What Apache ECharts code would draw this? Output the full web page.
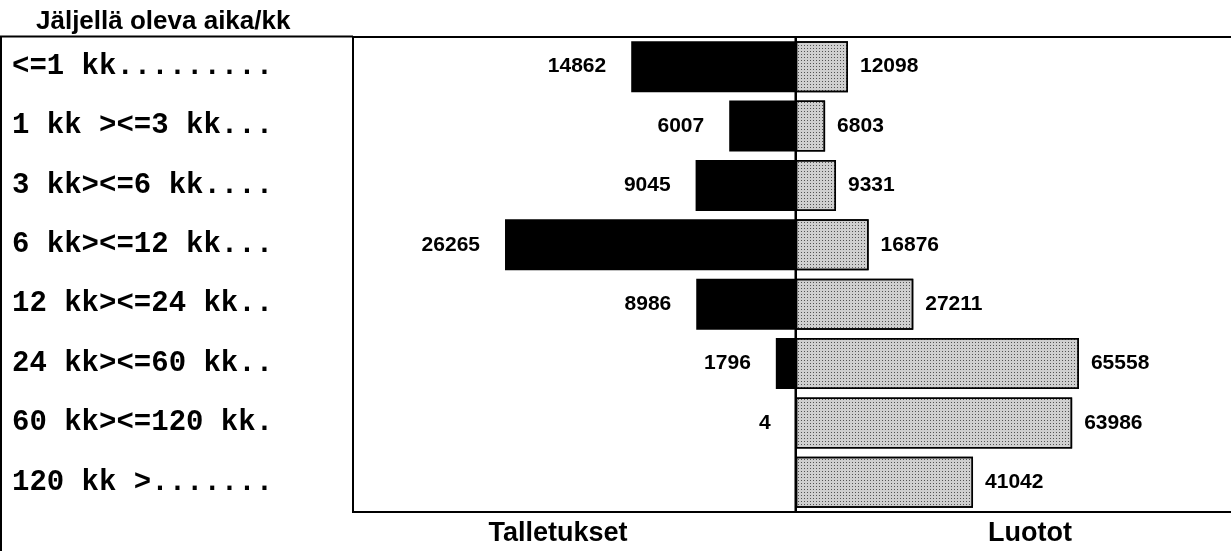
<!DOCTYPE html>
<html>
<head>
<meta charset="utf-8">
<script src="https://cdn.jsdelivr.net/npm/echarts@6/dist/echarts.min.js"></script>
<style>
  html, body { margin: 0; padding: 0; background: #fff; }
  #main { width: 1231px; height: 551px; }
</style>
</head>
<body>
<div id="main"></div>
<script>
// jäljellä oleva aika (kuukausina)
const categories = [
  '<=1 kk.........',
  '1 kk ><=3 kk...',
  '3 kk><=6 kk....',
  '6 kk><=12 kk...',
  '12 kk><=24 kk..',
  '24 kk><=60 kk..',
  '60 kk><=120 kk.',
  '120 kk >.......'
];
const talletukset = [14862, 6007, 9045, 26265, 8986, 1796, 4, null];
const luotot = [12098, 6803, 9331, 16876, 27211, 65558, 63986, 41042];

const chart = echarts.init(document.getElementById('main'));

const labelFont = {
  fontFamily: 'Liberation Sans',
  fontWeight: 'bold',
  fontSize: 21,
  color: '#000'
};

const option = {
  animation: false,
  backgroundColor: '#fff',
  title: [
    {
      text: 'Jäljellä oleva aika/kk',
      left: 31, top: 4,
      textStyle: { fontFamily: 'Liberation Sans', fontWeight: 'bold', fontSize: 26, color: '#000' }
    },
    {
      text: 'Talletukset',
      left: 553, top: 515, textAlign: 'center',
      textStyle: { fontFamily: 'Liberation Sans', fontWeight: 'bold', fontSize: 27, color: '#000' }
    },
    {
      text: 'Luotot',
      left: 1025, top: 515, textAlign: 'center',
      textStyle: { fontFamily: 'Liberation Sans', fontWeight: 'bold', fontSize: 27, color: '#000' }
    }
  ],
  // kategorialaatikon vasen ja yläreuna
  graphic: [{
    type: 'polyline',
    shape: { points: [[1, 560], [1, 36.5], [353, 36.5]] },
    style: { fill: 'none', stroke: '#000', lineWidth: 2 },
    silent: true
  }],
  grid: [
    {
      left: 353, width: 442.7, top: 37, bottom: 39, outerBoundsMode: 'none',
      show: true, borderColor: '#000', borderWidth: 2
    },
    {
      left: 795.7, width: 445, top: 37, bottom: 39, outerBoundsMode: 'none',
      show: true, borderColor: '#000', borderWidth: 2
    }
  ],
  xAxis: [
    { type: 'value', gridIndex: 0, inverse: true, min: 0, max: 40000, show: false },
    { type: 'value', gridIndex: 1, min: 0, max: 103000, show: false }
  ],
  yAxis: [
    {
      type: 'category', gridIndex: 0, inverse: true, data: categories,
      axisLine: { show: true, lineStyle: { color: '#000', width: 1.5 } },
      axisTick: { show: false },
      axisLabel: {
        align: 'left', margin: 341,
        fontFamily: 'Liberation Mono', fontWeight: 'bold', fontSize: 29, color: '#000'
      }
    },
    {
      type: 'category', gridIndex: 1, inverse: true, data: categories,
      axisLine: { show: true, lineStyle: { color: '#000', width: 1.5 } },
      axisTick: { show: false },
      axisLabel: { show: false }
    }
  ],
  series: [
    {
      name: 'Talletukset', type: 'bar', xAxisIndex: 0, yAxisIndex: 0,
      data: talletukset, barCategoryGap: '14%',
      itemStyle: { color: '#000' },
      label: { show: true, position: 'left', distance: 25, ...labelFont }
    },
    {
      name: 'Luotot', type: 'bar', xAxisIndex: 1, yAxisIndex: 1,
      data: luotot, barCategoryGap: '14%',
      itemStyle: {
        color: '#cfcfcf', borderColor: '#000', borderWidth: 1.5,
        decal: {
          symbol: 'rect', symbolSize: 1, color: 'rgba(0,0,0,0.6)',
          dashArrayX: [1, 1.5], dashArrayY: [1, 1.5], rotation: 0
        }
      },
      label: { show: true, position: 'right', distance: 12, ...labelFont }
    }
  ]
};

chart.setOption(option);
</script>
</body>
</html>
